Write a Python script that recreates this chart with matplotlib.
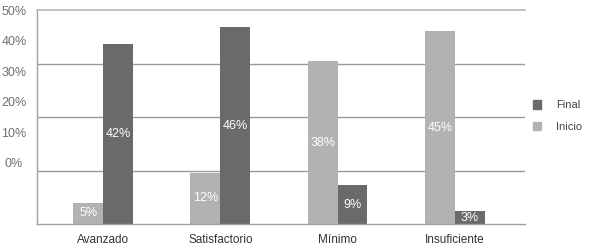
import matplotlib
matplotlib.use("Agg")
import matplotlib.pyplot as plt
from matplotlib.patches import Patch
import numpy as np

categories = ["Avanzado", "Satisfactorio", "Mínimo", "Insuficiente"]
inicio = [5, 12, 38, 45]
final = [42, 46, 9, 3]
ytick_labels = ["50%", "40%", "30%", "20%", "10%", "0%"]

plt.rcParams['font.family'] = ['Liberation Sans', 'DejaVu Sans']

fig = plt.figure(figsize=(5.89, 2.47), dpi=100)
ax = fig.add_axes([37/589, 23/247, (525-37)/589, (224-10)/247])

c_final = "#6a6a6a"
c_inicio = "#b2b2b2"
w = 0.255
x = np.arange(len(categories))

ax.set_xlim(-0.565, 3.6)
ax.set_ylim(0, 50)

for yv in [12.5, 25, 37.5]:
    ax.axhline(yv, color="#9a9a9a", lw=1.0, zorder=0)

ax.bar(x - w/2, inicio, w, color=c_inicio, zorder=2)
ax.bar(x + w/2, final, w, color=c_final, zorder=2)

fs = 8.5
for xi, v in zip(x - w/2, inicio):
    ax.text(xi, v/2, f"{v}%", ha="center", va="center", color="white", fontsize=9, zorder=3)
for xi, v in zip(x + w/2, final):
    ax.text(xi, v/2, f"{v}%", ha="center", va="center", color="white", fontsize=9, zorder=3)

# y tick labels (placed as in the reference)
ypos = [50 - k*50/7 for k in range(len(ytick_labels))]
ax.set_yticks(ypos)
ax.set_yticklabels(ytick_labels, color="#707070", fontsize=9)
ax.tick_params(axis="y", length=0, pad=23*72/100)
for lbl in ax.get_yticklabels():
    lbl.set_horizontalalignment("center")
ax.set_xticks(x)
ax.set_xticklabels(categories, color="#333333", fontsize=fs)
ax.tick_params(axis="x", length=0, pad=7)

for s in ["left", "bottom"]:
    ax.spines[s].set_color("#a0a0a0")
    ax.spines[s].set_linewidth(1.0)
ax.spines["right"].set_visible(False)
ax.spines["top"].set_color("#b8b8b8")
ax.spines["top"].set_linewidth(1.2)
ax.spines["top"].set_linestyle((0, (1, 1)))

handles = [Patch(color=c_final, label="Final"), Patch(color=c_inicio, label="Inicio")]
fig.legend(handles=handles, loc="center left", bbox_to_anchor=(523/589, 1 - 116/247),
           frameon=False, fontsize=8, handlelength=0.75, handleheight=0.75,
           handletextpad=1.3, labelspacing=1.0, labelcolor="#444444")

fig.savefig("out.png", dpi=100)
